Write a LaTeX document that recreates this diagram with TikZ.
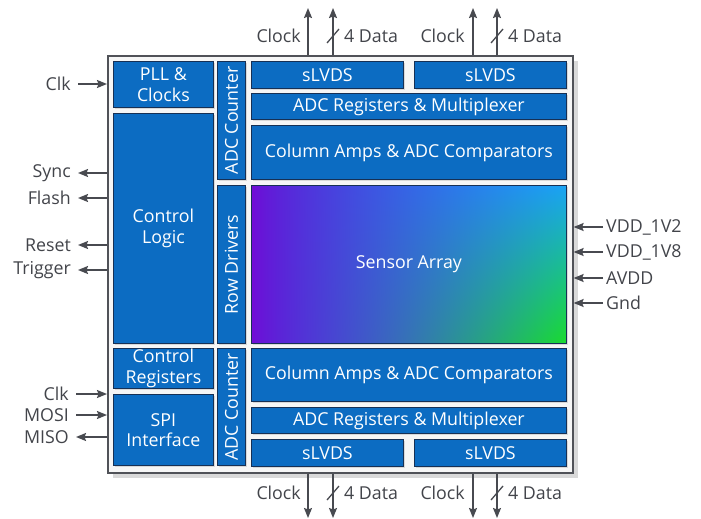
\documentclass[tikz,border=0pt]{standalone}
\usepackage{fontspec}
\setmainfont{Open Sans}
\usetikzlibrary{arrows.meta,shadows}

\definecolor{blkblue}{RGB}{12,108,194}
\definecolor{blkline}{RGB}{22,48,85}
\definecolor{sigcol}{RGB}{72,74,80}
\definecolor{txtcol}{RGB}{66,68,74}
\definecolor{chipline}{RGB}{80,82,88}

% purple (left) -> sky blue (top right) -> green (bottom right)
\pgfdeclarefunctionalshading{sensshade}{\pgfpointorigin}{\pgfpoint{100bp}{100bp}}{}{
  75 exch sub 50 div exch 25 sub 50 div
  2 copy dup mul mul
  1 index abs sqrt -0.37 mul 0.47 add
  2 index abs 0.75 exp 0.6 mul 0.04 add 2 index 0.22 mul add
  3 index 0.12 mul 0.84 add 3 index 0.78 mul sub
  6 3 roll pop pop pop
}

\tikzset{
  blk/.style={draw=blkline, line width=0.8pt, fill=blkblue, text=white, align=center,
    inner sep=0pt, anchor=north west,
    drop shadow={shadow xshift=2pt, shadow yshift=-2pt, opacity=.25}},
  chipbox/.style={draw=chipline, line width=1.6pt, fill=gray!7, anchor=north west,
    drop shadow={shadow xshift=5pt, shadow yshift=-5pt, opacity=.3}},
  lbl/.style={text=txtcol, inner sep=0pt},
  sig/.style={draw=sigcol, line width=1.5pt, -{Stealth[length=10pt,width=8pt,inset=1.5pt]}},
  bus/.style={draw=sigcol, line width=1.3pt}
}

\begin{document}
\begin{tikzpicture}[x=1pt,y=-1pt, font=\fontsize{17.8}{20.5}\selectfont]
\useasboundingbox (0,0) rectangle (701,519);

\node[chipbox, minimum width=465pt, minimum height=417pt] (chip) at (107,55) {};

% left column
\node[blk, minimum width=100pt, minimum height=46pt] (pll) at (113,61) {PLL \&\\Clocks};
\node[blk, minimum width=100pt, minimum height=230pt] (ctrl) at (113,113) {Control\\Logic};
\node[blk, minimum width=100pt, minimum height=40pt] (regs) at (113,348) {Control\\Registers};
\node[blk, minimum width=100pt, minimum height=71pt] (spi) at (113,394) {SPI\\Interface};

\node[blk, minimum width=28pt, minimum height=118pt] (cntTop) at (217,61) {\rotatebox{90}{ADC Counter}};
\node[blk, minimum width=28pt, minimum height=158pt] (rowdrv) at (217,185) {\rotatebox{90}{Row Drivers}};
\node[blk, minimum width=28pt, minimum height=117pt] (cntBot) at (217,348) {\rotatebox{90}{ADC Counter}};

% readout, top and bottom
\node[blk, minimum width=152pt, minimum height=27pt] (lvdsTL) at (251,61) {sLVDS};
\node[blk, minimum width=152pt, minimum height=27pt] (lvdsTR) at (414,61) {sLVDS};
\node[blk, minimum width=315pt, minimum height=26pt] (muxTop) at (251,93) {ADC Registers \& Multiplexer};
\node[blk, minimum width=315pt, minimum height=54pt] (ampsTop) at (251,125) {Column Amps \& ADC Comparators};

\node[blk, minimum width=315pt, minimum height=158pt, shade, shading=sensshade] (sensor) at (251,185) {Sensor Array};

\node[blk, minimum width=315pt, minimum height=53pt] (ampsBot) at (251,348) {Column Amps \& ADC Comparators};
\node[blk, minimum width=315pt, minimum height=26pt] (muxBot) at (251,407) {ADC Registers \& Multiplexer};
\node[blk, minimum width=152pt, minimum height=27pt] (lvdsBL) at (251,439) {sLVDS};
\node[blk, minimum width=152pt, minimum height=27pt] (lvdsBR) at (414,439) {sLVDS};

% top outputs
\coordinate (ckA) at (308,8);
\coordinate (dtA) at (333,8);
\coordinate (ckB) at (473,8);
\coordinate (dtB) at (497,8);
\foreach \c in {ckA,dtA,ckB,dtB}
  \draw[sig] (\c |- chip.north) -- (\c);
\node[lbl, anchor=east] (ckAlbl) at (301,36) {Clock};
\node[lbl, anchor=west] (dtAlbl) at (344,36) {4 Data};
\node[lbl, anchor=east] (ckBlbl) at (465,36) {Clock};
\node[lbl, anchor=west] (dtBlbl) at (508,36) {4 Data};
\draw[bus] (327,43) -- ++(12,-14);
\draw[bus] (491,43) -- ++(12,-14);

% bottom outputs
\coordinate (ckC) at (308,518);
\coordinate (dtC) at (333,518);
\coordinate (ckD) at (473,518);
\coordinate (dtD) at (497,518);
\foreach \c in {ckC,dtC,ckD,dtD}
  \draw[sig] (\c |- chip.south) -- (\c);
\node[lbl, anchor=east] (ckClbl) at (301,493) {Clock};
\node[lbl, anchor=west] (dtClbl) at (344,493) {4 Data};
\node[lbl, anchor=east] (ckDlbl) at (465,493) {Clock};
\node[lbl, anchor=west] (dtDlbl) at (508,493) {4 Data};
\draw[bus] (327,500) -- ++(12,-14);
\draw[bus] (491,500) -- ++(12,-14);

% left side
\node[lbl, anchor=east] (clkIn) at (71,84) {Clk};
\node[lbl, anchor=east] (sync) at (71,173) {Sync};
\node[lbl, anchor=east] (flash) at (71,198) {Flash};
\node[lbl, anchor=east] (reset) at (71,245) {Reset};
\node[lbl, anchor=east] (trig) at (71,270) {Trigger};
\node[lbl, anchor=east] (spiClk) at (69,394) {Clk};
\node[lbl, anchor=east] (mosi) at (69,415) {MOSI};
\node[lbl, anchor=east] (miso) at (69,437) {MISO};

\foreach \n in {clkIn,spiClk,mosi}
  \draw[sig] ([xshift=7pt]\n.east) -- (\n.east -| chip.west);
\foreach \n in {sync,flash,reset,trig,miso}
  \draw[sig] (\n.east -| chip.west) -- ([xshift=7pt]\n.east);

% right side supplies
\node[lbl, anchor=west] (vdd12) at (606,227) {VDD\_1V2};
\node[lbl, anchor=west] (vdd18) at (606,252) {VDD\_1V8};
\node[lbl, anchor=west] (avdd) at (606,278) {AVDD};
\node[lbl, anchor=west] (gnd) at (606,303) {Gnd};
\foreach \n in {vdd12,vdd18,avdd,gnd}
  \draw[sig] ([xshift=-3pt]\n.west) -- (\n.west -| chip.east);
\end{tikzpicture}
\end{document}
